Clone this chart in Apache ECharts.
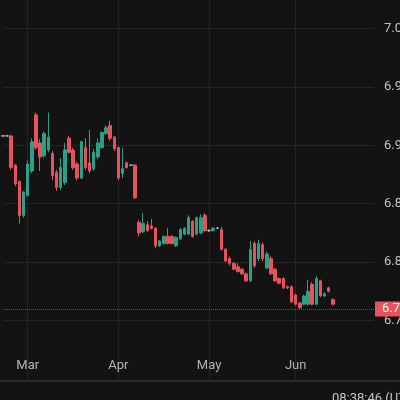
<!DOCTYPE html>
<html>
<head>
<meta charset="utf-8">
<script src="https://cdn.jsdelivr.net/npm/echarts@6/dist/echarts.min.js"></script>
<style>
  html, body { margin: 0; padding: 0; background: #131313; }
  #chart { width: 400px; height: 400px; }
</style>
</head>
<body>
<div id="chart"></div>
<script>
// trading days, 2020
const dates = [
  "02-21", "02-24", "02-25", "02-26", "02-27", "02-28",
  "03-02", "03-03", "03-04", "03-05", "03-06",
  "03-09", "03-10", "03-11", "03-12", "03-13",
  "03-16", "03-17", "03-18", "03-19", "03-20",
  "03-23", "03-24", "03-25", "03-26", "03-27",
  "03-30", "03-31", "04-01", "04-02", "04-03",
  "04-06", "04-07", "04-08", "04-09", "04-10",
  "04-13", "04-14", "04-15", "04-16", "04-17",
  "04-20", "04-21", "04-22", "04-23", "04-24",
  "04-27", "04-28", "04-29", "04-30", "05-01",
  "05-04", "05-05", "05-06", "05-07", "05-08",
  "05-11", "05-12", "05-13", "05-14", "05-15",
  "05-18", "05-19", "05-20", "05-21", "05-22",
  "05-25", "05-26", "05-27", "05-28", "05-29",
  "06-01", "06-02", "06-03", "06-04", "06-05",
  "06-08", "06-09", "06-10", "06-11", "06-12",
  "06-15", "06-16", "06-17", "06-18", "06-19",
  "06-22", "06-23", "06-24", "06-25", "06-26"
];

const monthLabels = { "03-02": "Mar", "04-01": "Apr", "05-01": "May", "06-01": "Jun" };

const opens = [
  6.908, 6.908, 6.908, 6.883, 6.869, 6.840, 6.857, 6.878, 6.926, 6.902,
  6.891, 6.896, 6.893, 6.877, 6.864, 6.868, 6.906, 6.896, 6.884, 6.872,
  6.898, 6.885, 6.880, 6.890, 6.898, 6.910, 6.917, 6.907, 6.898, 6.876,
  6.885, 6.883, 6.883, 6.834, 6.826, 6.832, 6.831, 6.829, 6.814, 6.816,
  6.822, 6.822, 6.814, 6.820, 6.824, 6.824, 6.835, 6.824, 6.825, 6.840,
  6.827, 6.827, 6.829, 6.828, 6.811, 6.803, 6.799, 6.796, 6.794, 6.790,
  6.784, 6.816, 6.803, 6.815, 6.795, 6.803, 6.794, 6.786, 6.786, 6.779,
  6.779, 6.772, 6.765, 6.764, 6.764, 6.781, 6.764, 6.784, 6.771, 6.778,
  6.768
];
const closes = [
  6.908, 6.908, 6.881, 6.867, 6.840, 6.860, 6.884, 6.903, 6.898, 6.890,
  6.910, 6.907, 6.874, 6.864, 6.881, 6.896, 6.894, 6.881, 6.872, 6.903,
  6.881, 6.878, 6.894, 6.902, 6.911, 6.915, 6.906, 6.897, 6.872, 6.880,
  6.881, 6.883, 6.855, 6.825, 6.833, 6.827, 6.829, 6.814, 6.818, 6.822,
  6.816, 6.816, 6.821, 6.828, 6.829, 6.838, 6.822, 6.838, 6.838, 6.827,
  6.827, 6.829, 6.829, 6.811, 6.801, 6.799, 6.794, 6.792, 6.790, 6.784,
  6.811, 6.797, 6.816, 6.803, 6.807, 6.790, 6.784, 6.782, 6.778, 6.778,
  6.766, 6.764, 6.761, 6.771, 6.775, 6.764, 6.786, 6.771, 6.773, 6.775,
  6.764
];
const lows = [
  6.908, 6.908, 6.879, 6.865, 6.833, 6.838, 6.856, 6.876, 6.896, 6.878,
  6.889, 6.894, 6.870, 6.861, 6.862, 6.866, 6.893, 6.879, 6.870, 6.871,
  6.879, 6.876, 6.878, 6.888, 6.897, 6.909, 6.904, 6.895, 6.870, 6.872,
  6.880, 6.883, 6.854, 6.822, 6.825, 6.826, 6.828, 6.812, 6.813, 6.815,
  6.815, 6.815, 6.813, 6.819, 6.823, 6.823, 6.821, 6.823, 6.824, 6.826,
  6.826, 6.826, 6.829, 6.810, 6.800, 6.797, 6.793, 6.791, 6.789, 6.783,
  6.783, 6.795, 6.801, 6.801, 6.794, 6.789, 6.783, 6.781, 6.777, 6.777,
  6.765, 6.763, 6.760, 6.763, 6.763, 6.763, 6.763, 6.770, 6.770, 6.774,
  6.763
];
const highs = [
  6.908, 6.908, 6.909, 6.884, 6.870, 6.861, 6.887, 6.906, 6.928, 6.905,
  6.912, 6.928, 6.895, 6.879, 6.889, 6.902, 6.908, 6.898, 6.886, 6.904,
  6.906, 6.913, 6.897, 6.906, 6.912, 6.917, 6.921, 6.908, 6.899, 6.898,
  6.886, 6.883, 6.884, 6.836, 6.842, 6.835, 6.837, 6.830, 6.819, 6.823,
  6.829, 6.823, 6.822, 6.829, 6.830, 6.840, 6.836, 6.839, 6.841, 6.842,
  6.828, 6.830, 6.830, 6.830, 6.812, 6.805, 6.800, 6.799, 6.795, 6.791,
  6.818, 6.818, 6.819, 6.817, 6.809, 6.805, 6.795, 6.787, 6.787, 6.780,
  6.780, 6.773, 6.766, 6.772, 6.785, 6.783, 6.788, 6.785, 6.774, 6.779,
  6.769
];

const lastPrice = closes[closes.length - 1];

const upColor = "#2e9e86";
const downColor = "#e5535c";

const candles = opens.map((o, i) => [o, closes[i], lows[i], highs[i]]);

const isMonthStart = (index) => monthLabels[dates[index]] !== undefined;

const chart = echarts.init(document.getElementById("chart"));

chart.setOption({
  backgroundColor: "#131313",
  animation: false,
  textStyle: { fontFamily: "Roboto" },
  grid: {
    left: 3,
    right: 26,
    top: -30,
    bottom: 21,
    outerBoundsMode: "none",
    containLabel: false
  },
  xAxis: {
    type: "category",
    data: dates,
    boundaryGap: false,
    axisLine: { show: false },
    axisTick: { show: false },
    axisLabel: {
      inside: true,
      margin: 7,
      color: "#b4b4b4",
      fontSize: 13,
      interval: (index) => isMonthStart(index),
      formatter: (value) => monthLabels[value] ?? ""
    },
    splitLine: {
      show: true,
      interval: (index) => isMonthStart(index),
      lineStyle: { color: "#242424", width: 1 }
    }
  },
  yAxis: {
    type: "value",
    position: "right",
    min: 6.70,
    max: 7.05,
    interval: 0.05,
    axisLine: { show: false },
    axisTick: { show: false },
    axisLabel: {
      margin: 10,
      color: "#c4c4c4",
      fontSize: 13,
      showMinLabel: false,
      showMaxLabel: false,
      formatter: (value) => value.toFixed(4)
    },
    splitLine: {
      showMinLine: false,
      showMaxLine: false,
      lineStyle: { color: "#242424", width: 1 }
    }
  },
  series: [
    {
      type: "candlestick",
      data: candles,
      barWidth: 3,
      clip: false,
      itemStyle: {
        color: upColor,
        color0: downColor,
        borderColor: upColor,
        borderColor0: downColor,
        borderColorDoji: "#c8c8c8",
        borderWidth: 1
      },
      markLine: {
        silent: true,
        symbol: "none",
        animation: false,
        lineStyle: { color: "#7a4a4f", type: "dotted", width: 1 },
        label: {
          position: "end",
          distance: 1,
          backgroundColor: "#e5535c",
          color: "#ffffff",
          fontSize: 13,
          fontFamily: "Roboto",
          padding: [1, 7, 1, 7],
          formatter: () => lastPrice.toFixed(4)
        },
        data: [{ yAxis: lastPrice }]
      }
    }
  ],
  graphic: [
    {
      type: "line",
      shape: { x1: 0, y1: 381, x2: 400, y2: 381 },
      style: { stroke: "#2b2b2b", lineWidth: 2 }
    },
    {
      type: "text",
      left: 332,
      top: 392,
      style: {
        text: "08:38:46 (UTC+8)",
        fill: "#c4c4c4",
        fontSize: 13,
        fontFamily: "Roboto"
      }
    }
  ]
});
</script>
</body>
</html>
